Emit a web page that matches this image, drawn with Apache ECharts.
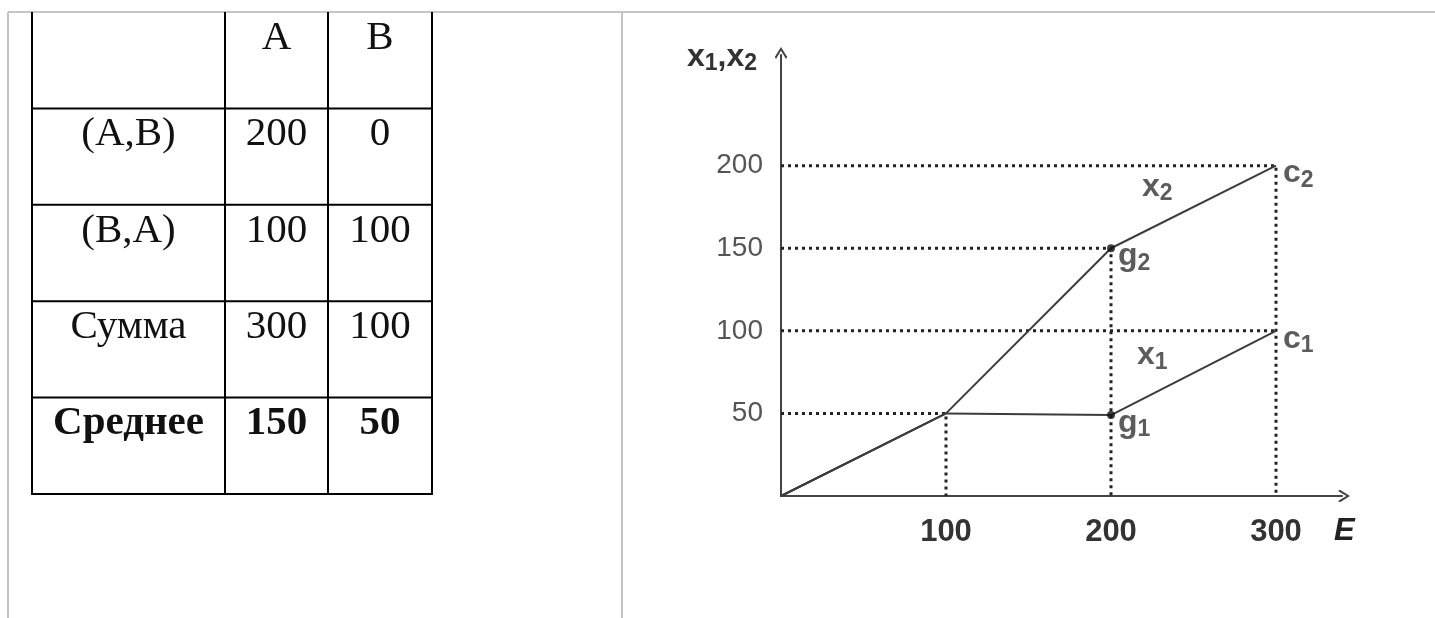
<!DOCTYPE html>
<html>
<head>
<meta charset="utf-8">
<script src="https://cdn.jsdelivr.net/npm/echarts@6/dist/echarts.min.js"></script>
<style>
	html, body { margin: 0; padding: 0; background: #fff; }
	#main { width: 1435px; height: 618px; }
</style>
</head>
<body>
<div id="main"></div>
<script>
	// table
	var tableHead = ['', 'A', 'B'];
	var tableRows = ['(A,B)', '(B,A)', 'Сумма', 'Среднее'];
	var colA = [200, 100, 300, 150];
	var colB = [0, 100, 100, 50];

	// chart
	var xTicks = [100, 200, 300];
	var yTicks = [50, 100, 150, 200];
	var lineX1 = [[0, 0], [100, 50], [200, 49], [300, 100]];
	var lineX2 = [[0, 0], [100, 50], [200, 150], [300, 200]];
	var guidePoints = [[100, 50], [200, 150], [300, 200], [300, 100]];
	var dotPoints = [[200, 49], [200, 150]];
	var pointTags = ['c', 'g', 'c', 'g'];
	var pointSubs = ['2', '2', '1', '1'];
	var pointTagAt = [[300, 200], [200, 150], [300, 100], [200, 49]];
	var curveTags = ['x', 'x'];
	var curveSubs = ['2', '1'];
	var curveTagAt = [[228, 187], [225, 85]];

	var myChart = echarts.init(document.getElementById('main'));

	// column edges of the table (layout, not data)
	var colEdges = [0, 193, 296, 400];
	var lastRow = tableRows.length;

	var cells = [];
	for (var c = 0; c < 3; c++) {
		cells.push({ value: [c, 0], text: tableHead[c], bold: false });
	}
	for (var r = 0; r < tableRows.length; r++) {
		var bold = r === lastRow - 1;
		cells.push({ value: [0, r + 1], text: tableRows[r], bold: bold });
		cells.push({ value: [1, r + 1], text: String(colA[r]), bold: bold });
		cells.push({ value: [2, r + 1], text: String(colB[r]), bold: bold });
	}

	function renderCell(params, api) {
		var cell = cells[params.dataIndex];
		var c = api.value(0), r = api.value(1);
		var p0 = api.coord([colEdges[c], r]);
		var p1 = api.coord([colEdges[c + 1], r + 1]);
		return {
			type: 'group',
			children: [{
				type: 'polyline',
				shape: { points: [[p0[0], p0[1]], [p0[0], p1[1]], [p1[0], p1[1]], [p1[0], p0[1]]] },
				style: { stroke: '#000', lineWidth: 2, fill: null }
			}, {
				type: 'text',
				style: {
					text: cell.text,
					x: (p0[0] + p1[0]) / 2,
					y: p0[1] + 26,
					align: 'center',
					verticalAlign: 'middle',
					fill: '#111',
					font: (cell.bold ? 'bold ' : '') + '41px "Liberation Serif", serif'
				}
			}]
		};
	}

	var rich = {
		m: { fontSize: 32, fontWeight: 'bold', color: '#333', fontFamily: 'Liberation Sans' },
		s: { fontSize: 23, fontWeight: 'bold', color: '#333', fontFamily: 'Liberation Sans', padding: [14, 0, 0, 0] }
	};

	function tagFormatter(p) {
		return '{m|' + p.data.tag + '}{s|' + p.data.sub + '}';
	}

	var pointTagData = pointTagAt.map(function (pt, i) {
		return { value: pt, tag: pointTags[i], sub: pointSubs[i] };
	});
	var curveTagData = curveTagAt.map(function (pt, i) {
		return { value: pt, tag: curveTags[i], sub: curveSubs[i] };
	});

	// dotted drop lines; a vertical one is skipped when a higher point on the same x already draws it
	var guideSeries = guidePoints.map(function (p) {
		var covered = guidePoints.some(function (q) {
			return q[0] === p[0] && q[1] > p[1];
		});
		var pts = covered ? [[0, p[1]], p] : [[0, p[1]], p, [p[0], 0]];
		return {
			type: 'line',
			xAxisIndex: 0,
			yAxisIndex: 0,
			data: pts,
			showSymbol: false,
			silent: true,
			z: 1,
			lineStyle: { color: '#222', width: 3, type: [3, 4] }
		};
	});

	var arrowPath = 'path://M5,0 L10,8 L9,9.6 L5,3 L1,9.6 L0,8 Z';

	var option = {
		animation: false,
		backgroundColor: '#fff',
		graphic: [
			{ type: 'line', shape: { x1: 8, y1: 12, x2: 1435, y2: 12 }, style: { stroke: '#c4c4c4', lineWidth: 2 } },
			{ type: 'line', shape: { x1: 8, y1: 12, x2: 8, y2: 618 }, style: { stroke: '#c4c4c4', lineWidth: 2 } },
			{ type: 'line', shape: { x1: 622, y1: 12, x2: 622, y2: 618 }, style: { stroke: '#c4c4c4', lineWidth: 2 } }
		],
		grid: [{
			left: 781,
			top: 55,
			width: 561,
			height: 441
		}, {
			left: 32,
			top: 12,
			width: 400,
			height: 482
		}],
		xAxis: [{
			type: 'value',
			gridIndex: 0,
			min: 0,
			max: 340,
			name: 'E',
			nameLocation: 'end',
			nameGap: -8,
			nameTextStyle: {
				fontSize: 31,
				fontStyle: 'italic',
				fontWeight: 'bold',
				color: '#222',
				fontFamily: 'Liberation Sans',
				align: 'left',
				verticalAlign: 'top',
				padding: [20, 0, 0, 0]
			},
			axisLine: {
				lineStyle: { color: '#444', width: 2 },
				symbol: ['none', arrowPath],
				symbolSize: [17, 12],
				symbolOffset: [0, 2]
			},
			axisTick: { show: false },
			splitLine: { show: false },
			axisLabel: {
				customValues: xTicks,
				margin: 21,
				fontSize: 31,
				fontWeight: 'bold',
				color: '#333',
				fontFamily: 'Liberation Sans'
			}
		}, {
			type: 'value',
			gridIndex: 1,
			min: 0,
			max: 400,
			show: false
		}],
		yAxis: [{
			type: 'value',
			gridIndex: 0,
			min: 0,
			max: 267,
			name: '{m|x}{s|1}{m|,x}{s|2}',
			nameLocation: 'end',
			nameGap: -2,
			nameTextStyle: {
				align: 'right',
				verticalAlign: 'middle',
				padding: [0, 24, 0, 0],
				rich: rich
			},
			axisLine: {
				lineStyle: { color: '#444', width: 2 },
				symbol: ['none', arrowPath],
				symbolSize: [17, 12],
				symbolOffset: [0, 2]
			},
			axisTick: { show: false },
			splitLine: { show: false },
			axisLabel: {
				customValues: yTicks,
				margin: 18,
				fontSize: 28,
				color: '#555',
				fontFamily: 'Liberation Sans',
				padding: [9, 0, 0, 0]
			}
		}, {
			type: 'value',
			gridIndex: 1,
			min: 0,
			max: lastRow + 1,
			inverse: true,
			show: false
		}],
		series: guideSeries.concat([{
			name: 'x1',
			type: 'line',
			xAxisIndex: 0,
			yAxisIndex: 0,
			data: lineX1,
			showSymbol: false,
			z: 3,
			lineStyle: { color: '#3c3c3c', width: 2 }
		}, {
			name: 'x2',
			type: 'line',
			xAxisIndex: 0,
			yAxisIndex: 0,
			data: lineX2,
			showSymbol: false,
			z: 3,
			lineStyle: { color: '#3c3c3c', width: 2 }
		}, {
			type: 'scatter',
			xAxisIndex: 0,
			yAxisIndex: 0,
			data: dotPoints,
			symbolSize: 8,
			z: 4,
			itemStyle: { color: '#111' }
		}, {
			type: 'scatter',
			xAxisIndex: 0,
			yAxisIndex: 0,
			data: pointTagData,
			symbolSize: 0,
			z: 5,
			label: {
				show: true,
				position: 'right',
				distance: 7,
				offset: [0, 8],
				formatter: tagFormatter,
				rich: rich
			}
		}, {
			type: 'scatter',
			xAxisIndex: 0,
			yAxisIndex: 0,
			data: curveTagData,
			symbolSize: 0,
			z: 5,
			label: {
				show: true,
				position: 'inside',
				formatter: tagFormatter,
				rich: rich
			}
		}, {
			type: 'custom',
			xAxisIndex: 1,
			yAxisIndex: 1,
			data: cells,
			renderItem: renderCell,
			silent: true
		}])
	};

	option && myChart.setOption(option);
</script>
</body>
</html>
